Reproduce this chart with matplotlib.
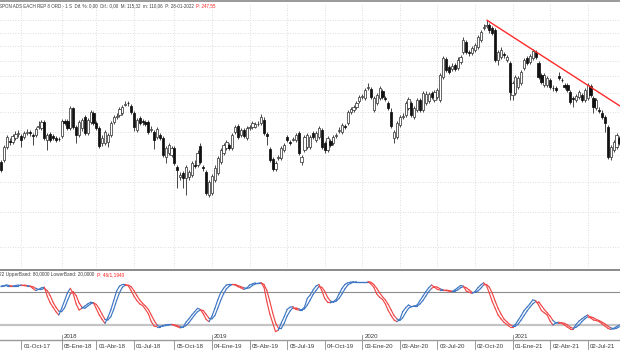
import numpy as np
import pandas as pd
import matplotlib
matplotlib.use("Agg")
import matplotlib.pyplot as plt
from matplotlib.collections import LineCollection
from matplotlib.lines import Line2D
import matplotlib.transforms as mtrans

# ---------------- data (weekly candles) ----------------
start_date = "2017-08-11"
n_weeks = 215

opens = [77.4, 78.2, 83.5, 86.1, 85.7, 87.5, 89.3, 88.4, 87.9, 89.7,
         90.2, 88.8, 88.8, 92.5, 92.1, 94.9, 86.6, 89.3, 88.4, 87.5,
         87.0, 88.4, 95.4, 95.4, 92.1, 102.0, 92.5, 88.8, 92.1, 97.4,
         89.7, 94.9, 99.4, 94.4, 92.1, 85.3, 85.3, 85.7, 88.8, 94.9,
         97.4, 98.4, 99.4, 103.6, 104.6, 103.0, 99.4, 91.1, 96.9, 95.4,
         94.9, 94.9, 91.1, 90.2, 87.9, 88.8, 87.5, 79.4, 81.0, 80.2,
         83.1, 75.4, 71.6, 73.1, 71.3, 71.6, 72.4, 76.2, 76.2, 84.0,
         75.4, 73.5, 65.3, 66.0, 70.6, 73.1, 77.4, 81.0, 83.1, 84.4,
         83.1, 90.2, 93.0, 88.8, 91.1, 87.5, 92.1, 92.5, 92.5, 94.0,
         94.4, 95.9, 89.3, 82.7, 78.6, 74.6, 79.0, 79.0, 82.3, 87.9,
         85.7, 86.6, 86.6, 89.7, 77.4, 82.3, 83.5, 83.5, 89.7, 86.6,
         87.9, 91.1, 85.3, 82.3, 86.1, 85.3, 88.4, 90.7, 90.2, 93.0,
         94.4, 99.9, 100.9, 102.5, 105.7, 107.9, 107.3, 113.0, 112.4, 100.9,
         104.6, 107.3, 111.2, 107.3, 104.6, 99.9, 87.5, 87.9, 93.5, 97.4,
         98.4, 102.0, 104.6, 97.4, 100.9, 106.2, 100.9, 104.6, 105.7, 110.1,
         106.2, 107.9, 106.2, 119.5, 131.1, 125.8, 124.5, 127.1, 125.2, 129.1,
         135.8, 143.0, 135.8, 135.1, 137.2, 139.4, 144.4, 153.6, 155.2, 156.0,
         153.6, 152.0, 130.4, 132.4, 134.4, 130.4, 128.4, 109.0, 110.1, 113.6,
         115.9, 125.2, 131.7, 129.1, 131.7, 135.8, 128.4, 120.8, 114.7, 114.7,
         117.7, 113.0, 113.0, 120.1, 117.7, 114.7, 114.7, 110.7, 107.3, 106.2,
         107.9, 109.0, 106.2, 107.3, 114.1, 107.3, 102.0, 100.9, 99.4, 97.4,
         92.5, 79.4, 82.3, 83.5, 87.5]

highs = [78.2, 84.4, 88.8, 87.5, 89.3, 90.7, 91.1, 89.3, 90.7, 91.6,
         91.1, 89.7, 92.5, 95.4, 95.9, 95.9, 89.7, 90.2, 89.3, 88.4,
         87.9, 96.4, 96.4, 96.4, 103.0, 102.5, 93.5, 95.9, 96.9, 98.4,
         96.9, 100.9, 100.4, 95.4, 93.0, 88.8, 91.1, 89.7, 95.4, 98.4,
         99.4, 102.5, 103.6, 105.7, 105.7, 104.1, 100.4, 96.9, 97.9, 96.4,
         95.9, 95.9, 93.0, 91.1, 92.5, 89.7, 88.4, 84.0, 85.3, 84.0,
         84.0, 76.2, 73.5, 73.9, 76.2, 74.3, 77.8, 78.2, 82.3, 85.3,
         76.2, 74.3, 70.6, 72.8, 76.2, 79.8, 83.1, 85.3, 86.6, 85.3,
         89.7, 93.5, 94.0, 92.1, 92.1, 93.0, 93.5, 95.4, 94.9, 95.4,
         98.9, 97.4, 90.2, 83.5, 79.4, 77.8, 80.2, 84.0, 85.3, 88.8,
         86.6, 87.9, 89.7, 90.7, 80.2, 88.8, 89.7, 88.8, 90.7, 90.7,
         93.0, 92.1, 86.1, 88.4, 87.0, 88.8, 89.7, 92.5, 94.4, 94.0,
         100.9, 102.5, 103.6, 105.7, 109.0, 109.6, 113.0, 115.9, 113.6, 108.4,
         110.1, 114.1, 112.4, 108.4, 105.7, 102.0, 91.1, 95.4, 98.4, 99.4,
         105.7, 107.9, 105.7, 103.0, 107.3, 107.3, 111.2, 111.2, 110.7, 111.2,
         111.8, 113.0, 122.0, 133.1, 132.4, 127.1, 128.4, 128.4, 132.4, 133.8,
         146.7, 144.4, 137.2, 140.1, 142.2, 148.2, 152.0, 156.8, 160.0, 157.6,
         155.2, 153.6, 137.2, 139.4, 135.8, 133.8, 129.7, 117.1, 120.8, 120.1,
         123.9, 131.7, 133.1, 134.4, 137.9, 137.2, 129.7, 122.0, 122.0, 120.1,
         118.9, 114.7, 114.1, 122.6, 118.9, 115.9, 115.9, 111.8, 108.4, 109.6,
         111.8, 110.1, 113.0, 115.9, 115.3, 108.4, 107.3, 102.5, 100.9, 98.4,
         93.5, 84.4, 86.6, 89.7, 88.4]

lows = [73.5, 77.4, 82.7, 84.4, 84.8, 86.6, 87.9, 83.5, 87.0, 88.8,
        88.4, 84.4, 87.9, 91.6, 91.1, 86.6, 82.3, 85.7, 86.6, 85.7,
        86.1, 87.5, 93.5, 91.1, 91.1, 91.6, 85.3, 87.9, 90.7, 88.8,
        88.8, 94.0, 93.5, 91.1, 83.1, 84.0, 84.4, 83.5, 87.9, 94.0,
        96.4, 97.4, 98.4, 103.0, 103.0, 98.9, 90.7, 90.2, 93.5, 93.5,
        93.0, 89.3, 90.2, 82.7, 87.0, 86.6, 79.4, 77.0, 80.2, 79.4,
        76.2, 67.7, 70.6, 67.7, 65.3, 70.6, 71.6, 75.0, 75.4, 76.6,
        73.9, 65.3, 64.7, 65.3, 69.8, 72.4, 76.6, 80.2, 82.3, 82.3,
        82.3, 89.3, 87.0, 87.9, 87.5, 86.6, 91.1, 91.6, 92.1, 93.0,
        93.5, 88.8, 84.4, 77.4, 73.9, 73.9, 78.2, 78.2, 81.4, 85.7,
        84.4, 86.1, 85.7, 80.2, 76.2, 81.4, 82.7, 82.7, 87.0, 85.7,
        87.0, 82.7, 81.0, 81.4, 83.5, 84.4, 87.5, 89.7, 89.3, 91.6,
        93.5, 98.9, 99.9, 101.5, 104.6, 106.8, 106.2, 111.8, 106.8, 99.9,
        103.6, 106.2, 106.8, 105.7, 100.9, 92.1, 85.3, 87.0, 92.5, 96.4,
        97.4, 100.9, 97.4, 96.4, 99.9, 99.9, 99.9, 103.6, 104.6, 106.8,
        105.2, 106.8, 105.2, 118.3, 122.6, 121.4, 123.3, 123.3, 123.9, 127.8,
        134.4, 134.4, 133.1, 133.8, 135.8, 137.9, 143.0, 152.0, 153.6, 149.7,
        148.2, 129.1, 127.1, 131.1, 131.7, 129.1, 106.2, 106.2, 109.0, 112.4,
        114.7, 123.9, 127.1, 127.8, 130.4, 131.1, 118.3, 115.3, 113.6, 113.6,
        112.4, 111.2, 110.7, 117.7, 116.5, 112.4, 110.7, 104.1, 102.5, 105.2,
        106.8, 105.2, 105.2, 106.2, 107.9, 99.4, 100.9, 99.4, 96.4, 90.2,
        78.6, 78.2, 81.4, 82.7, 84.4]

closes = [74.3, 83.5, 87.9, 85.7, 88.4, 89.3, 89.7, 86.6, 89.7, 90.2,
          89.7, 88.4, 91.6, 93.0, 94.9, 87.5, 88.8, 86.6, 87.5, 86.6,
          86.8, 95.4, 94.4, 92.1, 102.0, 92.5, 88.8, 94.9, 95.9, 89.7,
          95.9, 99.9, 94.4, 92.1, 84.0, 87.5, 90.2, 88.8, 94.4, 97.4,
          97.9, 101.5, 102.5, 104.1, 104.4, 99.9, 92.5, 95.9, 94.4, 94.9,
          94.0, 90.2, 91.6, 86.6, 91.6, 87.5, 80.2, 83.1, 84.4, 83.1,
          77.0, 74.3, 72.4, 71.3, 75.4, 73.5, 77.0, 75.8, 81.0, 77.4,
          75.0, 66.0, 69.8, 72.0, 75.0, 79.0, 82.3, 84.4, 85.7, 83.1,
          88.8, 92.5, 87.9, 91.1, 88.4, 92.1, 92.3, 94.4, 94.0, 94.2,
          97.4, 89.7, 88.4, 78.2, 74.6, 77.0, 79.4, 83.1, 84.4, 86.6,
          85.3, 87.0, 88.8, 81.0, 79.4, 87.9, 88.8, 87.9, 87.9, 89.7,
          92.1, 83.5, 82.3, 87.5, 84.4, 87.9, 88.8, 91.1, 93.5, 92.5,
          99.9, 101.5, 102.5, 104.6, 107.9, 108.4, 111.8, 113.6, 107.9, 107.3,
          109.0, 113.0, 107.9, 106.8, 102.0, 93.0, 90.2, 94.4, 97.4, 97.9,
          104.6, 106.8, 98.4, 102.0, 106.2, 100.9, 110.1, 109.6, 109.6, 107.9,
          110.7, 111.8, 120.8, 131.7, 123.9, 122.6, 126.4, 124.5, 130.4, 132.4,
          144.4, 135.8, 135.1, 138.6, 140.8, 146.7, 150.5, 154.4, 156.0, 152.0,
          149.7, 130.4, 135.8, 137.2, 133.8, 132.4, 110.7, 115.9, 119.5, 118.9,
          122.6, 130.4, 128.4, 133.1, 136.5, 132.4, 119.5, 116.5, 120.8, 118.9,
          113.6, 112.7, 111.8, 118.9, 117.4, 113.6, 111.8, 105.2, 107.0, 108.4,
          110.7, 106.2, 111.8, 114.7, 109.0, 102.5, 106.2, 100.4, 97.4, 94.4,
          79.4, 83.5, 85.7, 88.8, 85.3]

# stochastic oscillator (%K and %D)
stoch_k = [90, 91, 92, 91, 90, 91, 92, 92, 91, 90,
           90, 86, 82, 84, 87, 88, 72, 60, 52, 44,
           38, 50, 64, 78, 86, 76, 58, 47, 50, 54,
           58, 61, 60, 49, 38, 30, 23, 34, 47, 64,
           81, 90, 93, 93, 91, 82, 72, 64, 58, 55,
           48, 40, 26, 18, 17, 17, 19, 20, 21, 21,
           19, 17, 15, 16, 25, 31, 38, 44, 50, 48,
           40, 30, 26, 36, 50, 65, 78, 86, 92, 93,
           93, 92, 89, 87, 84, 86, 92, 94, 96, 96,
           96, 88, 62, 40, 24, 8, 11, 24, 35, 48,
           52, 53, 48, 47, 47, 52, 68, 74, 83, 90,
           93, 82, 68, 61, 60, 62, 66, 76, 86, 93,
           96, 97, 98, 98, 98, 98, 98, 98, 94, 88,
           76, 70, 66, 58, 46, 37, 29, 26, 30, 44,
           51, 56, 53, 54, 56, 64, 72, 80, 87, 92,
           88, 84, 83, 83, 82, 81, 80, 83, 87, 91,
           90, 81, 79, 77, 80, 87, 92, 96, 91, 77,
           62, 50, 38, 31, 25, 21, 17, 17, 21, 29,
           37, 46, 52, 58, 65, 64, 56, 46, 42, 38,
           27, 20, 24, 25, 23, 20, 16, 13, 13, 21,
           27, 31, 35, 38, 33, 29, 28, 26, 22, 18,
           14, 12, 14, 17, 20]

stoch_d = [89, 90, 91, 91, 91, 91, 91, 92, 92, 91,
           90, 89, 86, 84, 84, 86, 82, 73, 61, 52,
           45, 44, 51, 64, 76, 80, 73, 60, 52, 50,
           54, 58, 60, 57, 49, 39, 30, 29, 35, 48,
           64, 78, 88, 92, 92, 89, 82, 73, 65, 59,
           54, 48, 38, 28, 20, 17, 18, 19, 20, 21,
           20, 19, 17, 16, 19, 24, 31, 38, 44, 47,
           46, 39, 32, 31, 37, 50, 64, 76, 85, 90,
           93, 93, 91, 89, 87, 86, 87, 91, 94, 95,
           96, 93, 82, 63, 42, 24, 14, 14, 23, 36,
           45, 51, 51, 49, 47, 49, 56, 65, 75, 82,
           89, 88, 81, 70, 63, 61, 63, 68, 76, 85,
           92, 95, 97, 98, 98, 98, 98, 98, 97, 93,
           86, 78, 71, 65, 57, 47, 37, 31, 28, 33,
           42, 50, 53, 54, 54, 58, 64, 72, 80, 86,
           89, 88, 85, 83, 83, 82, 81, 81, 83, 87,
           89, 87, 83, 79, 79, 81, 86, 92, 93, 88,
           77, 63, 50, 40, 31, 26, 21, 18, 18, 22,
           29, 37, 45, 52, 58, 62, 62, 55, 48, 42,
           36, 28, 24, 23, 24, 23, 20, 16, 14, 16,
           20, 26, 31, 35, 35, 33, 30, 28, 25, 22,
           18, 15, 13, 14, 17]

upper_band = 80
lower_band = 20

# down-trend line (week index, price)
trend_idx = [168, 214.2]
trend_price = [160.0, 103.0]

price_grid = [50, 60, 70, 80, 90, 100, 110, 120, 130, 140, 150, 160]

tick_dates = ["2017-10-01", "2018-01-05", "2018-04-01", "2018-07-01", "2018-10-05",
              "2019-01-04", "2019-04-05", "2019-07-05", "2019-10-04", "2020-01-03",
              "2020-04-03", "2020-07-03", "2020-10-02", "2021-01-01", "2021-04-02",
              "2021-07-02"]
tick_labels = ["01-Oct-17", "05-Ene-18", "01-Abr-18", "01-Jul-18", "05-Oct-18",
               "04-Ene-19", "05-Abr-19", "05-Jul-19", "04-Oct-19", "03-Ene-20",
               "03-Abr-20", "03-Jul-20", "02-Oct-20", "01-Ene-21", "02-Abr-21",
               "02-Jul-21"]
year_dates = ["2018-01-05", "2019-01-04", "2020-01-03", "2021-01-01"]
year_labels = ["2018", "2019", "2020", "2021"]

title_text = ("SPON ADS EACH REP 8 ORD - 1 S  Dif. %: 0,00  Dif.: 0,00  "
              "M: 115,32  m: 110,06  P: 28-01-2022")
title_red = "P: 247,55"
stoch_text = "22 UpperBand: 80,0000 LowerBand: 20,0000"
stoch_red = "P: 46/1,1940"

assert len(opens) == len(highs) == len(lows) == len(closes) == n_weeks
assert len(stoch_k) == len(stoch_d) == n_weeks

# ---------------- figure ----------------
W, H = 620, 350
plt.rcParams["font.family"] = ["Liberation Sans", "DejaVu Sans"]
fig = plt.figure(figsize=(W / 100, H / 100), dpi=100)
fig.patch.set_facecolor("white")

def fy(px):  # pixel y from top -> figure fraction
    return 1 - px / H

dates = pd.date_range(start_date, periods=n_weeks, freq="W-FRI")
x = np.arange(n_weeks)

def idx_of(d):
    return int(np.searchsorted(dates.values, np.datetime64(pd.Timestamp(d)), side="right") - 1)

xmin, xmax = -0.346, 214.19

# top price panel
ax = fig.add_axes([0, fy(268), 1, (268 - 4) / H])
ax.set_yscale("log")
ax.set_xlim(xmin, xmax)
ax.set_ylim(44.98, 173.6)
for s in ax.spines.values():
    s.set_visible(False)
ax.set_xticks([])
ax.set_yticks([])
ax.yaxis.set_minor_locator(matplotlib.ticker.NullLocator())

grid_kw = dict(color="#d4d4d4", lw=0.6, linestyle=(0, (1, 2)), zorder=0)
for p in price_grid:
    ax.axhline(p, **grid_kw)
tick_idx = [idx_of(d) for d in tick_dates]
for t in tick_idx:
    ax.axvline(t, **grid_kw)

o = np.array(opens); h = np.array(highs); l = np.array(lows); c = np.array(closes)
up = c >= o
ax.vlines(x, l, h, color="#2a2a2a", lw=0.6, zorder=2)
body_bot = np.minimum(o, c)
body_h = np.maximum(np.abs(c - o), 0.15)
ax.bar(x[up], body_h[up], bottom=body_bot[up], width=0.75, color="white",
       edgecolor="#3a3a3a", linewidth=0.55, zorder=3)
ax.bar(x[~up], body_h[~up], bottom=body_bot[~up], width=0.75, color="#111111",
       edgecolor="#111111", linewidth=0.55, zorder=3)

ax.plot(trend_idx, trend_price, color="#ff2a2a", lw=1.0, zorder=4, solid_capstyle="butt")

# bottom stochastic panel
ax2 = fig.add_axes([0, fy(340), 1, 70 / H])
ax2.set_xlim(xmin, xmax)
ax2.set_ylim(-7, 119)
ax2.set_xticks([])
ax2.set_yticks([])
for k in ("left", "right"):
    ax2.spines[k].set_visible(False)
ax2.spines["top"].set_color("#8a8a8a")
ax2.spines["top"].set_linewidth(1.4)
ax2.spines["bottom"].set_color("#9a9a9a")
ax2.spines["bottom"].set_linewidth(1.0)
ax2.axhline(upper_band, color="#8c8c8c", lw=0.8, zorder=1)
ax2.axhline(lower_band, color="#c4c4c4", lw=1.6, zorder=1)

K = np.array(stoch_k, float); D = np.array(stoch_d, float)
blue, red = "#3f77c4", "#f04848"
seg_cols = [blue if K[i + 1] >= D[i + 1] else red for i in range(n_weeks - 1)]
for series in (D, K):
    segs = [[(x[i], series[i]), (x[i + 1], series[i + 1])] for i in range(n_weeks - 1)]
    ax2.add_collection(LineCollection(segs, colors=seg_cols, linewidths=0.85, zorder=3,
                                      capstyle="round"))

# x-axis labels and ticks
tr = mtrans.blended_transform_factory(ax2.transData, ax2.transAxes)
off = 0.75
for t, lab in zip(tick_idx, tick_labels):
    ax2.add_line(Line2D([t, t], [0, -0.13], transform=tr, color="#8a8a8a", lw=0.6, clip_on=False))
    ax2.text(t + off, -0.10, lab, transform=tr, fontsize=4.4, color="#3a3a3a",
             ha="left", va="center", clip_on=False)
for d, lab in zip(year_dates, year_labels):
    t = idx_of(d)
    ax2.add_line(Line2D([t, t], [0, 0.075], transform=tr, color="#8a8a8a", lw=0.6, clip_on=False))
    ax2.text(t + off, 0.045, lab, transform=tr, fontsize=4.4, color="#3a3a3a",
             ha="left", va="center", clip_on=False)

# header texts (fit gray part to its width in the reference, red part right after)
fig.add_artist(Line2D([0, 1], [fy(1), fy(1)], transform=fig.transFigure, color="#9a9a9a", lw=1.4))
renderer = fig.canvas.get_renderer()

def fitted(xpx, ypx, txt, width_px, color):
    t = fig.text(xpx / W, fy(ypx), txt, fontsize=4.0, color=color, ha="left", va="center")
    w = t.get_window_extent(renderer).width
    t.set_fontsize(4.0 * width_px / w)
    return t

t1 = fitted(-1, 5.5, title_text, 194, "#404040")
t1r = fig.text((-1 + 194 + 3) / W, fy(5.5), title_red, fontsize=t1.get_fontsize(),
               color="#ff2020", ha="left", va="center")
t2 = fitted(-1, 274.5, stoch_text, 95, "#404040")
t2r = fig.text((-1 + 95 + 3) / W, fy(274.5), stoch_red, fontsize=t2.get_fontsize(),
               color="#ff2020", ha="left", va="center")

fig.savefig("out.png", dpi=100, facecolor="white")
